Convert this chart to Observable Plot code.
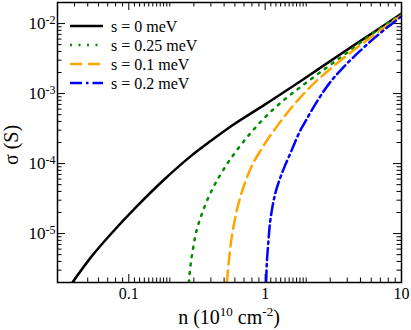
<!DOCTYPE html>
<html><head><meta charset="utf-8">
<script src="https://cdn.jsdelivr.net/npm/d3@7"></script>
<script src="https://cdn.jsdelivr.net/npm/@observablehq/plot@0.6"></script>
<style>
body{margin:0;background:#fff}
svg{font-family:"Liberation Serif","Times New Roman",serif;background:#fff}
</style>
</head><body><div id="chart"></div>
<script>
// ---- data ----
const seriesNames = ["s = 0 meV", "s = 0.25 meV", "s = 0.1 meV", "s = 0.2 meV"];
const seriesColors = ["#000000", "#008B00", "#FFA500", "#0000FF"];
const seriesDash = [null, "2 6.5", "12 6", "12 4 2.5 4"];

const nS0 = [0.0386, 0.0525, 0.0736, 0.1154, 0.1811, 0.2836, 0.3974, 0.5731, 1.0, 1.804, 3.543, 6.958, 10];
const sigmaS0 = [2.0e-6, 4.53e-6, 9.77e-6, 2.48e-5, 5.87e-5, 1.267e-4, 2.095e-4, 3.50e-4, 7.0e-4, 1.49e-3, 3.62e-3, 8.66e-3, 1.39e-2];

const nS025 = [0.2761, 0.2836, 0.2969, 0.3138, 0.3414, 0.3803, 0.4324, 0.5543, 0.7674, 1.0396, 1.425, 1.804, 2.529, 3.967, 6.58, 10];
const sigmaS025 = [2.0e-6, 3.54e-6, 6.31e-6, 1.094e-5, 1.85e-5, 3.16e-5, 5.25e-5, 1.148e-4, 2.61e-4, 4.96e-4, 8.6e-4, 1.227e-3, 2.01e-3, 3.81e-3, 7.93e-3, 1.36e-2];

const nS01 = [0.524, 0.540, 0.5635, 0.5927, 0.6288, 0.6751, 0.7343, 0.8209, 0.9717, 1.088, 1.362, 1.707, 2.259, 3.165, 4.436, 6.215, 8.71, 10];
const sigmaS01 = [2.0e-6, 3.81e-6, 7.87e-6, 1.42e-5, 2.41e-5, 3.94e-5, 6.31e-5, 1.033e-4, 1.79e-4, 2.49e-4, 4.50e-4, 7.74e-4, 1.377e-3, 2.45e-3, 4.14e-3, 6.77e-3, 1.094e-2, 1.306e-2];

const nS02 = [1.017, 1.029, 1.057, 1.088, 1.135, 1.184, 1.245, 1.310, 1.401, 1.525, 1.659, 1.804, 1.908, 2.392, 2.994, 3.746, 4.966, 6.215, 7.794, 10];
const sigmaS02 = [2.0e-6, 3.81e-6, 7.87e-6, 1.47e-5, 2.49e-5, 3.69e-5, 5.13e-5, 6.78e-5, 9.42e-5, 1.376e-4, 2.04e-4, 2.93e-4, 3.57e-4, 7.61e-4, 1.445e-3, 2.37e-3, 4.07e-3, 6.04e-3, 8.69e-3, 1.268e-2];

const xMajorTicks = [0.1, 1, 10];
const xTickLabels = ["0.1", "1", "10"];
const xMinorTicks = [0.04, 0.05, 0.06, 0.07, 0.08, 0.09,
  0.11, 0.12, 0.13, 0.14, 0.15, 0.16, 0.17, 0.18, 0.19, 0.2, 0.3, 0.4, 0.5, 0.6, 0.7, 0.8, 0.9,
  1.1, 1.2, 1.3, 1.4, 1.5, 1.6, 1.7, 1.8, 1.9, 2, 3, 4, 5, 6, 7, 8, 9];
const yMajorTicks = [1e-5, 1e-4, 1e-3, 1e-2];
const yTickExponents = ["-5", "-4", "-3", "-2"];
const yMinorTicks = [3e-6, 4e-6, 5e-6, 6e-6, 7e-6, 8e-6, 9e-6,
  2e-5, 3e-5, 4e-5, 5e-5, 6e-5, 7e-5, 8e-5, 9e-5,
  2e-4, 3e-4, 4e-4, 5e-4, 6e-4, 7e-4, 8e-4, 9e-4,
  2e-3, 3e-3, 4e-3, 5e-3, 6e-3, 7e-3, 8e-3, 9e-3];

const xLabelParts = ["n (10", "10", " cm", "-2", ")"];
const yLabelText = "σ (S)";

// ---- build ----
const nArrays = [nS0, nS025, nS01, nS02];
const sArrays = [sigmaS0, sigmaS025, sigmaS01, sigmaS02];
const seriesRows = nArrays.map((ns, i) => ns.map((n, j) => ({n, sigma: sArrays[i][j], series: seriesNames[i]})));

const W = 411, H = 330, mL = 57, mR = 10, mT = 2, mB = 48;
const innerW = W - mL - mR, innerH = H - mT - mB;
const majLen = 8, minLen = 4.5;

const marks = [];
const tickStyle = {stroke: "#000", strokeWidth: 1};
marks.push(Plot.tickX(xMajorTicks, {x: d => d, insetTop: innerH - majLen, ...tickStyle}));
marks.push(Plot.tickX(xMajorTicks, {x: d => d, insetBottom: innerH - majLen, ...tickStyle}));
marks.push(Plot.tickX(xMinorTicks, {x: d => d, insetTop: innerH - minLen, ...tickStyle}));
marks.push(Plot.tickX(xMinorTicks, {x: d => d, insetBottom: innerH - minLen, ...tickStyle}));
marks.push(Plot.tickY(yMajorTicks, {y: d => d, insetRight: innerW - majLen, ...tickStyle}));
marks.push(Plot.tickY(yMajorTicks, {y: d => d, insetLeft: innerW - majLen, ...tickStyle}));
marks.push(Plot.tickY(yMinorTicks, {y: d => d, insetRight: innerW - minLen, ...tickStyle}));
marks.push(Plot.tickY(yMinorTicks, {y: d => d, insetLeft: innerW - minLen, ...tickStyle}));

seriesRows.forEach((rows, i) => {
  marks.push(Plot.line(rows, {
    x: "n", y: "sigma", stroke: seriesColors[i], strokeWidth: 2.5,
    strokeDasharray: seriesDash[i] ?? undefined, curve: "catmull-rom", clip: true
  }));
});
marks.push(Plot.frame({stroke: "#000", strokeWidth: 1.5}));
marks.push(Plot.axisX(xMajorTicks, {tickSize: 0, tickPadding: 5, fontSize: 16,
  tickFormat: d => xTickLabels[xMajorTicks.indexOf(d)], label: null}));
marks.push(Plot.axisY(yMajorTicks, {tickSize: 0, tickPadding: 2, fontSize: 17,
  tickFormat: d => "10|" + yTickExponents[yMajorTicks.indexOf(d)], label: null}));

const svgNode = Plot.plot({
  width: W, height: H,
  marginLeft: mL, marginRight: mR, marginTop: mT, marginBottom: mB,
  style: {fontFamily: '"Liberation Serif","Times New Roman",serif', color: "#000", background: "#fff"},
  x: {type: "log", domain: [0.03, 10]},
  y: {type: "log", domain: [2e-6, 2e-2]},
  marks
});
document.getElementById("chart").append(svgNode);

const svg = d3.select(svgNode);
svg.selectAll('g[aria-label="y-axis tick label"] text').each(function() {
  const t = d3.select(this);
  const parts = t.text().split("|");
  t.text(null);
  t.append("tspan").text(parts[0]);
  t.append("tspan").attr("dy", "-0.45em").attr("font-size", "12px").text(parts[1]);
});

// axis titles
const xl = svg.append("text").attr("x", mL + innerW / 2).attr("y", 324)
  .attr("text-anchor", "middle").attr("font-size", 20).attr("fill", "#000");
xl.append("tspan").text(xLabelParts[0]);
xl.append("tspan").attr("dy", -8).attr("font-size", 13).text(xLabelParts[1]);
xl.append("tspan").attr("dy", 8).text(xLabelParts[2]);
xl.append("tspan").attr("dy", -8).attr("font-size", 13).text(xLabelParts[3]);
xl.append("tspan").attr("dy", 8).text(xLabelParts[4]);

svg.append("text").attr("transform", `translate(18,${mT + innerH / 2 + 3}) rotate(-90)`)
  .attr("text-anchor", "middle").attr("font-size", 20).attr("fill", "#000").text(yLabelText);

// legend
const lg = svg.append("g");
const rowY = [26, 45, 64, 83];
seriesNames.forEach((name, i) => {
  lg.append("line").attr("x1", 70).attr("x2", 103).attr("y1", rowY[i]).attr("y2", rowY[i])
    .attr("stroke", seriesColors[i]).attr("stroke-width", 2.5)
    .attr("stroke-dasharray", seriesDash[i]);
  lg.append("text").attr("x", 111).attr("y", rowY[i] + 5.5).attr("font-size", 16)
    .attr("text-anchor", "start").attr("fill", "#000").text(name);
});
</script>
</body></html>
